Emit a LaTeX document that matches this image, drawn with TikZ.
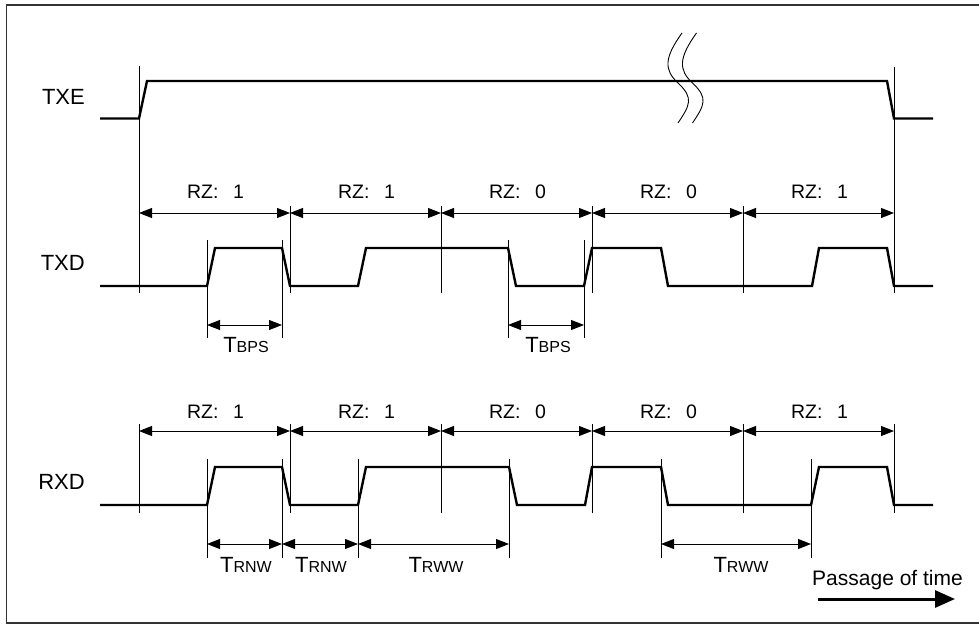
\documentclass[tikz,border=0pt]{standalone}
\usepackage{fontspec}
\setmainfont{Liberation Sans}
\usetikzlibrary{arrows.meta}
\begin{document}
\begin{tikzpicture}[x=1pt,y=-1pt,
  sig/.style={line width=2.4pt, line join=miter},
  vline/.style={line width=0.9pt},
  dimline/.style={line width=0.9pt, {Triangle[length=13pt,width=10pt]}-{Triangle[length=13pt,width=10pt]}},
  siglabel/.style={font=\fontsize{22}{26}\selectfont, anchor=east, inner sep=0pt},
  rzlabel/.style={font=\fontsize{19.5}{23}\selectfont, inner sep=0pt},
  tlabel/.style={font=\fontsize{22}{26}\selectfont, inner sep=0pt},
  brk/.style={line width=0.9pt}]
\useasboundingbox (0,0) rectangle (979,626);
% frame
\draw[line width=1.5pt, black!80] (980,5) -- (6.5,5) -- (6.5,623) -- (980,623);

% signal labels
\node[siglabel] (txe) at (85,97) {TXE};
\node[siglabel] (txd) at (85,263) {TXD};
\node[siglabel] (rxd) at (85,482) {RXD};

% waveforms
\draw[sig] (100,118.5) -- (139,118.5) -- (147,81) -- (887,81) -- (894,118.5) -- (933,118.5);
\draw[sig] (100,286) -- (207,286) -- (215,248) -- (282,248) -- (290,286) -- (358,286) -- (366,248)
  -- (508,248) -- (516,286) -- (584,286) -- (592,248) -- (661,248) -- (668,286) -- (812,286)
  -- (819,248) -- (887,248) -- (894,286) -- (933,286);
\draw[sig] (100,505) -- (207,505) -- (215,467) -- (282,467) -- (290,505) -- (358,505) -- (366,467)
  -- (509,467) -- (517,505) -- (585,505) -- (592,467) -- (661,467) -- (668,505) -- (811,505)
  -- (819,467) -- (887,467) -- (894,505) -- (933,505);

% break marks
\draw[brk] (682,33) .. controls (664,58) and (664,70) .. (678,83) .. controls (694,98) and (690,105) .. (678,123);
\draw[brk] (696.5,33) .. controls (678.5,58) and (678.5,70) .. (692.5,83) .. controls (708.5,98) and (704.5,105) .. (692.5,123);

% vertical markers, upper part
\draw[vline] (139,66) -- (139,293);
\draw[vline] (894,67) -- (894,293);
\foreach \x in {290,441,592,743} \draw[vline] (\x,206) -- (\x,293);
\foreach \x in {207,282,508,584} \draw[vline] (\x,240) -- (\x,338);

% vertical markers, lower part
\foreach \x in {139,290,441,592,743,894} \draw[vline] (\x,424) -- (\x,513);
\foreach \x in {207,282,358,509,661,811} \draw[vline] (\x,459) -- (\x,558);

% bit cells TXD
\foreach \a/\b/\v in {139/290/1,290/441/1,441/592/0,592/743/0,743/894/1}{
  \coordinate (ua\a) at (\a,213);
  \coordinate (ub\a) at (\b,213);
  \draw[dimline] (ua\a) -- (ub\a);
  \node[rzlabel] (rzu\a) at ({(\a+\b)/2+1},191.5) {RZ:\hspace{0.75em}\v};
}
% bit cells RXD
\foreach \a/\b/\v in {139/290/1,290/441/1,441/592/0,592/743/0,743/894/1}{
  \coordinate (la\a) at (\a,431);
  \coordinate (lb\a) at (\b,431);
  \draw[dimline] (la\a) -- (lb\a);
  \node[rzlabel] (rzl\a) at ({(\a+\b)/2+1},411.5) {RZ:\hspace{0.75em}\v};
}

% TBPS
\coordinate (p1a) at (207,325); \coordinate (p1b) at (282,325);
\coordinate (p2a) at (508,325); \coordinate (p2b) at (584,325);
\draw[dimline] (p1a) -- (p1b);
\draw[dimline] (p2a) -- (p2b);
\node[tlabel] (tbps1) at (246,345) {T{\fontsize{16}{19}\selectfont BPS}};
\node[tlabel] (tbps2) at (548,345) {T{\fontsize{16}{19}\selectfont BPS}};

% TRNW / TRWW
\coordinate (r1a) at (207,544); \coordinate (r1b) at (282,544);
\coordinate (r2a) at (282,544); \coordinate (r2b) at (358,544);
\coordinate (r3a) at (358,544); \coordinate (r3b) at (509,544);
\coordinate (r4a) at (661,544); \coordinate (r4b) at (811,544);
\draw[dimline] (r1a) -- (r1b);
\draw[dimline] (r2a) -- (r2b);
\draw[dimline] (r3a) -- (r3b);
\draw[dimline] (r4a) -- (r4b);
\node[tlabel] (trnw1) at (246,565) {T{\fontsize{16}{19}\selectfont RNW}};
\node[tlabel] (trnw2) at (321,565) {T{\fontsize{16}{19}\selectfont RNW}};
\node[tlabel] (trww1) at (436,565) {T{\fontsize{16}{19}\selectfont RWW}};
\node[tlabel] (trww2) at (741,565) {T{\fontsize{16}{19}\selectfont RWW}};

% passage of time
\node[font=\fontsize{21}{25}\selectfont, anchor=base, inner sep=0pt] (pot) at (887.5,585) {Passage of time};
\coordinate (ta) at (818,599);
\coordinate (tb) at (955,599);
\draw[line width=3pt, -{Triangle[length=20pt,width=17pt]}] (ta) -- (tb);
\end{tikzpicture}
\end{document}
